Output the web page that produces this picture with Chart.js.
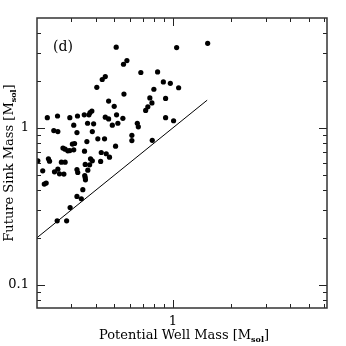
<!DOCTYPE html>
<html>
<head>
<meta charset="utf-8">
<script src="https://cdn.jsdelivr.net/npm/chart.js@4.4.1/dist/chart.umd.min.js"></script>
<style>
html,body{margin:0;padding:0;background:#fff;}
#wrap{width:346px;height:346px;}
</style>
</head>
<body>
<div id="wrap"><canvas id="c" width="346" height="346"></canvas></div>
<script>
// Potential well mass (x) and future sink mass (y), in solar masses
const wellMass = [0.511,0.557,0.449,0.433,0.406,0.560,0.467,0.499,0.226,0.255,0.295,0.323,0.350,0.370,0.383,0.375,0.449,0.467,0.513,0.553,0.521,0.488,0.309,0.364,0.391,0.244,0.256,0.321,0.385,0.411,0.445,1.509,1.045,0.580,0.684,0.834,0.893,0.970,1.070,0.798,0.761,0.917,0.780,0.743,0.724,0.917,1.008,0.656,0.664,0.615,0.615,0.783,0.202,0.214,0.218,0.223,0.229,0.232,0.272,0.279,0.288,0.295,0.304,0.312,0.309,0.361,0.507,0.351,0.428,0.454,0.472,0.377,0.385,0.425,0.267,0.279,0.354,0.373,0.256,0.246,0.261,0.275,0.321,0.324,0.365,0.352,0.354,0.355,0.344,0.321,0.338,0.296,0.254,0.284];
const sinkMass = [3.26,2.54,2.12,2.03,1.81,1.64,1.48,1.37,1.16,1.19,1.16,1.19,1.21,1.21,1.28,1.25,1.17,1.14,1.21,1.15,1.07,1.04,1.04,1.07,1.06,0.961,0.947,0.933,0.947,0.851,0.851,3.45,3.24,2.68,2.25,2.27,1.96,1.92,1.80,1.76,1.55,1.54,1.44,1.36,1.29,1.16,1.11,1.07,1.015,0.896,0.830,0.833,0.617,0.533,0.439,0.445,0.635,0.614,0.743,0.732,0.714,0.717,0.788,0.795,0.725,0.818,0.765,0.711,0.697,0.684,0.651,0.635,0.617,0.611,0.605,0.605,0.585,0.582,0.546,0.525,0.510,0.508,0.543,0.520,0.538,0.497,0.483,0.467,0.404,0.366,0.354,0.311,0.256,0.256];
// one-to-one reference line
const lineX = [0.2, 1.5];
const lineY = [0.2, 1.5];
// axis ranges and ticks
const xRange = [0.2, 6.2];
const yRange = [0.0714, 5.0];
const xTickValues = [0.3,0.4,0.5,0.6,0.7,0.8,0.9,1,2,3,4,5,6];
const xMajorTicks = [1];
const xTickLabels = ['1'];
const yTickValues = [0.08,0.09,0.1,0.2,0.3,0.4,0.5,0.6,0.7,0.8,0.9,1,2,3,4];
const yMajorTicks = [0.1,1];
const yTickLabels = ['0.1','1'];
const panelLabel = '(d)';
const xTitle = ['Potential Well Mass [M', 'sol', ']'];
const yTitle = ['Future Sink Mass [M', 'sol', ']'];

const FONT = '"DejaVu Serif", "Liberation Serif", serif';

const points = wellMass.map((v,i)=>({x:v, y:sinkMass[i]}));
const linePts = lineX.map((v,i)=>({x:v, y:lineY[i]}));

function drawSubText(ctx, parts, cx, cy, size){
  const big = size + 'px ' + FONT;
  const small = 'bold ' + Math.round(size*0.58) + 'px ' + FONT;
  ctx.font = big; const w0 = ctx.measureText(parts[0]).width;
  ctx.font = small; const w1 = ctx.measureText(parts[1]).width;
  ctx.font = big; const w2 = ctx.measureText(parts[2]).width;
  let x = cx - (w0+w1+w2)/2;
  ctx.textBaseline = 'alphabetic'; ctx.textAlign = 'left';
  ctx.font = big; ctx.fillText(parts[0], x, cy); x += w0;
  ctx.font = small; ctx.fillText(parts[1], x, cy + size*0.22); x += w1;
  ctx.font = big; ctx.fillText(parts[2], x, cy);
}

const framePlugin = {
  id:'frameTicks',
  afterDatasetsDraw(chart){
    const {ctx, chartArea:a, scales:{x,y}} = chart;
    ctx.save();
    ctx.strokeStyle = '#222';
    ctx.lineWidth = 1;
    ctx.beginPath();
    xTickValues.forEach(v=>{
      const p = Math.round(x.getPixelForValue(v)) + 0.5;
      const L = xMajorTicks.includes(v) ? 8 : 4;
      ctx.moveTo(p, a.bottom); ctx.lineTo(p, a.bottom - L);
      ctx.moveTo(p, a.top); ctx.lineTo(p, a.top + L);
    });
    yTickValues.forEach(v=>{
      const p = Math.round(y.getPixelForValue(v)) + 0.5;
      const L = yMajorTicks.includes(v) ? 8 : 4;
      ctx.moveTo(a.left, p); ctx.lineTo(a.left + L, p);
      ctx.moveTo(a.right, p); ctx.lineTo(a.right - L, p);
    });
    ctx.stroke();
    ctx.lineWidth = 1.5;
    ctx.strokeStyle = '#333';
    ctx.strokeRect(a.left, a.top, a.right - a.left, a.bottom - a.top);
    ctx.restore();
  },
  afterDraw(chart){
    const {ctx, chartArea:a} = chart;
    ctx.save();
    ctx.fillStyle = '#000';
    ctx.font = '14px ' + FONT;
    ctx.textAlign = 'left'; ctx.textBaseline = 'middle';
    ctx.fillText(panelLabel, a.left + 16, a.top + 29);
    drawSubText(ctx, xTitle, 184, 339, 13);
    ctx.translate(13, 163);
    ctx.rotate(-Math.PI/2);
    drawSubText(ctx, yTitle, 0, 0, 13);
    ctx.restore();
  }
};

new Chart(document.getElementById('c'), {
  type: 'scatter',
  data: {
    datasets: [
      {data: points, backgroundColor:'#000', borderColor:'#000', pointRadius:2.6, pointBorderWidth:0, pointHoverRadius:2.6},
      {data: linePts, showLine:true, borderColor:'#000', borderWidth:1, pointRadius:0, fill:false}
    ]
  },
  options: {
    responsive:false,
    animation:false,
    devicePixelRatio:1,
    events:[],
    layout:{padding:{left:0, top:18, right:19, bottom:0}},
    plugins:{legend:{display:false}, tooltip:{enabled:false}, title:{display:false}},
    scales:{
      x:{
        type:'logarithmic', min:xRange[0], max:xRange[1],
        grid:{display:false, drawTicks:false}, border:{display:false},
        afterBuildTicks(s){ s.ticks = xTickLabels.map(t=>({value:parseFloat(t)})); },
        afterFit(s){ s.height = 38; },
        ticks:{font:{family:FONT, size:13}, color:'#000', padding:6, maxRotation:0,
          callback(v){ const i = xTickLabels.findIndex(t=>parseFloat(t)===v); return i>=0 ? xTickLabels[i] : ''; }}
      },
      y:{
        type:'logarithmic', min:yRange[0], max:yRange[1],
        grid:{display:false, drawTicks:false}, border:{display:false},
        afterBuildTicks(s){ s.ticks = yTickLabels.map(t=>({value:parseFloat(t)})); },
        afterFit(s){ s.width = 37; },
        ticks:{font:{family:FONT, size:13}, color:'#000', padding:8,
          callback(v){ const i = yTickLabels.findIndex(t=>parseFloat(t)===v); return i>=0 ? yTickLabels[i] : ''; }}
      }
    }
  },
  plugins:[framePlugin]
});
</script>
</body>
</html>
